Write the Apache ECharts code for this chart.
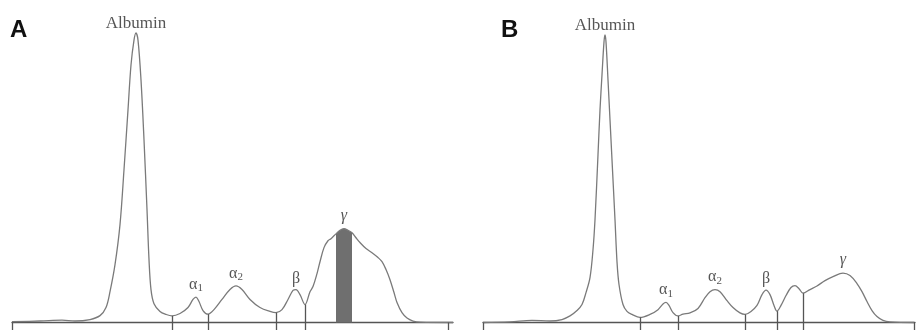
<!DOCTYPE html>
<html><head><meta charset="utf-8">
<script src="https://cdn.jsdelivr.net/npm/echarts@6/dist/echarts.min.js"></script>
<style>html,body{margin:0;padding:0;background:#fff}#c{width:917px;height:330px}</style>
</head><body><div id="c"></div>
<script>
// Panel A – electrophoresis trace (mobility, relative density)
const mobilityA = [0,28,50,63,78,88,94,98,103,108,112,116,119,122,124,126,129,132,135,137,139,142,148,154,160,168,176,181,184,187,191,196,202,210,218,224,230,238,248,258,264,270,276,281,284,288,293,298,301,305,308,312,316,319,324,328,332,336,340,344,348,354,360,366,370,374,378,382,385,390,395,401,408,441];
const densityA  = [0.3,0.5,0.8,0.5,1.0,2.3,5.0,10.3,19.3,32.7,51.0,71.0,86.0,94.3,96.7,94.3,81.0,61.0,37.7,21.0,11.0,6.3,3.7,2.7,2.2,3.0,5.0,7.7,8.5,7.0,4.0,2.8,4.3,7.7,11.0,12.2,11.0,7.7,5.0,3.7,3.3,4.3,7.7,10.7,11.0,9.3,6.0,10.3,12.0,16.3,20.3,25.0,27.3,28.0,29.6,30.8,31.3,30.8,30.0,28.3,26.7,24.7,23.3,21.7,20.3,17.7,14.3,10.0,6.7,3.3,1.5,0.5,0.1,0];
const boundariesA = [160,196,264,293];
const axisEndsA = [0,436];
const bandA = [324,340];
const peakNamesA = ['Albumin','α1','α2','β','γ'];
const peakXA = [124,184,224,284,332];

// Panel B
const mobilityB = [0,27,49,67,79,87,94,99,103,107,110,112,115,117,119,121,122,123,125,127,129,132,134,136,140,144,149,157,167,175,180,183,186,190,195,200,207,215,222,227,232,237,244,250,257,262,268,274,279,283,287,291,294,298,303,308,312,316,320,327,334,342,350,360,367,374,379,384,389,394,400,407,431];
const densityB  = [0,0.2,0.7,0.5,1.0,2.2,4.0,6.0,10.0,15.0,24.3,34.3,56.0,71.0,82.7,93.7,96.0,93.7,81.0,67.7,54.3,34.3,20.3,12.7,6.0,3.7,2.7,1.7,2.7,4.3,6.2,6.7,5.7,3.3,2.2,2.8,3.2,4.7,8.3,10.3,11.0,10.3,7.3,5.0,3.2,2.7,3.7,5.7,9.3,10.8,9.3,5.7,3.8,5.7,9.0,11.7,12.3,11.3,9.8,11.0,12.2,14.0,15.3,16.5,15.7,13.0,10.3,7.0,4.0,2.0,0.7,0.2,0];
const boundariesB = [157,195,262,294,320];
const axisEndsB = [0,431];
const peakNamesB = ['Albumin','α1','α2','β','γ'];
const peakXB = [122,183,232,283,360];

const panelLetters = ['A','B'];

const LINE = '#7a7a7a', SEP = '#555', TXT = '#2a2a2a', SERIF = '"Liberation Serif","DejaVu Serif",serif';

function pts(xs, ys){ return xs.map((x,i)=>[x, ys[i]]); }
function yAt(xs, ys, x){ const i = xs.indexOf(x); return ys[i]; }
function fmt(name){
  if (name==='Albumin') return '{a|Albumin}';
  if (name==='γ') return '{i|γ}';
  if (name.length===2) return '{g|'+name[0]+'}{s|'+name[1]+'}';
  return '{g|'+name+'}';
}
const rich = {
  a:{fontFamily:SERIF,fontSize:17,color:TXT},
  g:{fontFamily:SERIF,fontSize:16,color:TXT},
  s:{fontFamily:SERIF,fontSize:11,color:TXT,verticalAlign:'top',padding:[8,0,0,0]},
  i:{fontFamily:SERIF,fontSize:16,color:TXT,fontStyle:'italic'}
};
const labelGap = {Albumin:1, 'γ':5};

function sepLines(xs, ys, bounds, ends){
  const d = bounds.map(b=>[{coord:[b, yAt(xs,ys,b)]},{coord:[b,-2.5]}]);
  ends.forEach(e=>d.push([{coord:[e,0]},{coord:[e,-2.5]}]));
  return d;
}

function panelSeries(idx, xs, ys, bounds, ends, names, px){
  return [{
    type:'line', xAxisIndex:idx, yAxisIndex:idx, data:pts(xs,ys), smooth:0.35,
    showSymbol:false, symbol:'none', lineStyle:{color:LINE,width:1.3}, silent:true, z:3,
    markLine:{silent:true, symbol:'none', label:{show:false},
      lineStyle:{color:SEP,width:1.3,type:'solid'}, data:sepLines(xs,ys,bounds,ends)}
  },{
    type:'scatter', xAxisIndex:idx, yAxisIndex:idx, symbolSize:0, silent:true,
    data: names.map((n,i)=>({name:n, value:[px[i], yAt(xs,ys,px[i])],
      label:{distance: labelGap[n]!==undefined ? labelGap[n] : 3}})),
    label:{show:true, position:'top', formatter:p=>fmt(p.name), rich:rich}
  }];
}

const chart = echarts.init(document.getElementById('c'), null, {renderer:'canvas'});
const series = panelSeries(0, mobilityA, densityA, boundariesA, axisEndsA, peakNamesA, peakXA)
  .concat(panelSeries(1, mobilityB, densityB, boundariesB, axisEndsB, peakNamesB, peakXB));
// shaded gamma band in A
const bandIdx = mobilityA.map((x,i)=>i).filter(i=>mobilityA[i]>=bandA[0] && mobilityA[i]<=bandA[1]);
series.push({type:'line', xAxisIndex:0, yAxisIndex:0, smooth:0.35, symbol:'none', silent:true, z:2,
  data: bandIdx.map(i=>[mobilityA[i], densityA[i]]),
  lineStyle:{width:0}, areaStyle:{color:'#6f6f6f', opacity:1, origin:0}});

chart.setOption({
  animation:false,
  backgroundColor:'#fff',
  title: panelLetters.map((t,i)=>({text:t, left: i===0?5:496, top:13,
    textStyle:{fontFamily:'"Liberation Sans",Arial,sans-serif', fontWeight:'bold', fontSize:24, color:'#111'}})),
  grid:[{left:12, top:23, width:441, height:307.5},{left:483, top:23, width:432, height:307.5}],
  xAxis:[0,1].map(i=>({type:'value', gridIndex:i, min:0, max: i===0?441:432,
    axisLine:{show:true, onZero:true, lineStyle:{color:SEP,width:1.3}},
    axisTick:{show:false}, axisLabel:{show:false}, splitLine:{show:false}})),
  yAxis:[0,1].map(i=>({type:'value', gridIndex:i, min:-2.5, max:100, show:false, splitLine:{show:false}})),
  series: series
});
</script></body></html>
